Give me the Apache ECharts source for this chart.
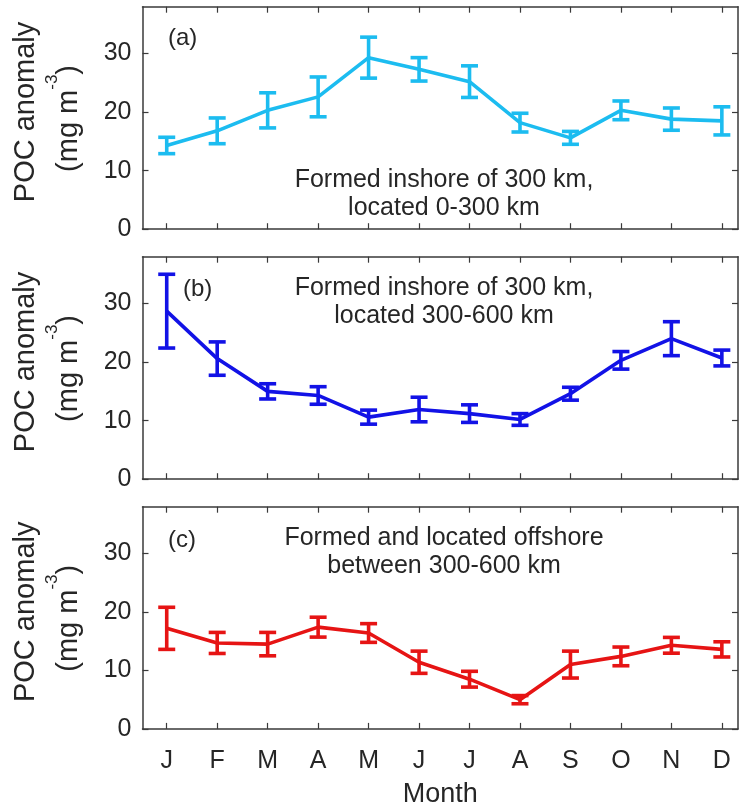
<!DOCTYPE html>
<html>
<head>
<meta charset="utf-8">
<script src="https://cdn.jsdelivr.net/npm/echarts@6/dist/echarts.min.js"></script>
<style>
html,body{margin:0;padding:0;background:#fff;}
#chart{width:740px;height:809px;}
</style>
</head>
<body>
<div id="chart"></div>
<script>
// ---- data ----
const months = ['J','F','M','A','M','J','J','A','S','O','N','D'];
const monthPos = [1,2,3,4,5,6,7,8,9,10,11,12];
const yTickValues = [0,10,20,30];

const meanA = [14.3, 16.8, 20.3, 22.6, 29.3, 27.3, 25.2, 18.2, 15.6, 20.3, 18.8, 18.5];
const errA  = [1.4, 2.2, 3.0, 3.4, 3.5, 2.0, 2.7, 1.6, 1.1, 1.6, 1.9, 2.4];

const meanB = [28.7, 20.6, 15.0, 14.3, 10.6, 11.9, 11.2, 10.2, 14.6, 20.3, 24.0, 20.7];
const errB  = [6.3, 2.85, 1.3, 1.5, 1.2, 2.1, 1.5, 1.0, 1.1, 1.5, 2.9, 1.35];

const meanC = [17.2, 14.7, 14.5, 17.4, 16.4, 11.4, 8.5, 5.0, 11.0, 12.4, 14.3, 13.6];
const errC  = [3.6, 1.8, 2.0, 1.7, 1.6, 1.9, 1.35, 0.7, 2.3, 1.6, 1.35, 1.3];

const panelLetters = ['(a)', '(b)', '(c)'];
const panelNotes = [
  'Formed inshore of 300 km,\nlocated 0-300 km',
  'Formed inshore of 300 km,\nlocated 300-600 km',
  'Formed and located offshore\nbetween 300-600 km'
];
const yLabelMain = 'POC anomaly';
const yLabelUnit = '(mg m';
const yLabelExp = '-3';
const xLabel = 'Month';

// ---- styling / layout ----
const colors = ['#1cbcf0', '#1212e6', '#e61414'];
const textColor = '#262626';
const axisColor = '#3a3a3a';
const FONT = '"Liberation Sans", Arial, Helvetica, sans-serif';
const grids = [
  {left: 142.5, right: 2, top: 6.7, height: 222.5},
  {left: 142.5, right: 2, top: 256.7, height: 222.5},
  {left: 142.5, right: 2, top: 506.7, height: 222.2}
];
const means = [meanA, meanB, meanC];
const errs = [errA, errB, errC];

const xAxes = [], yAxes = [], series = [], graphics = [];
const axisLine = {show: true, onZero: false, lineStyle: {color: axisColor, width: 1.5}};
const tickStyle = {color: axisColor, width: 1.2};

grids.forEach((g, i) => {
  g.outerBoundsMode = 'none';
  g.containLabel = false;
  ['bottom', 'top'].forEach(pos => {
    xAxes.push({
      gridIndex: i, type: 'value', position: pos, min: 0.52, max: 12.32,
      axisLine: axisLine,
      axisTick: {show: true, inside: true, length: 6, customValues: monthPos, lineStyle: tickStyle},
      axisLabel: {
        show: pos === 'bottom' && i === 2, customValues: monthPos,
        formatter: v => months[Math.round(v) - 1],
        fontFamily: FONT, fontSize: 25, color: textColor, margin: 20
      },
      splitLine: {show: false},
      name: (pos === 'bottom' && i === 2) ? xLabel : '',
      nameLocation: 'middle', nameGap: 52,
      nameTextStyle: {fontFamily: FONT, fontSize: 27, color: textColor}
    });
  });
  ['left', 'right'].forEach(pos => {
    yAxes.push({
      gridIndex: i, type: 'value', position: pos, min: 0, max: 38,
      axisLine: axisLine,
      axisTick: {show: true, inside: true, length: 6, customValues: yTickValues, lineStyle: tickStyle},
      axisLabel: {
        show: pos === 'left', customValues: yTickValues,
        fontFamily: FONT, fontSize: 25, color: textColor, margin: 11
      },
      splitLine: {show: false}
    });
  });
  const xb = i * 2, yl = i * 2;
  const color = colors[i];
  series.push({
    type: 'line', xAxisIndex: xb, yAxisIndex: yl,
    data: means[i].map((v, k) => [monthPos[k], v]),
    symbol: 'none', lineStyle: {color: color, width: 3.6}, z: 3, animation: false
  });
  series.push({
    type: 'custom', xAxisIndex: xb, yAxisIndex: yl,
    data: means[i].map((v, k) => [monthPos[k], v, errs[i][k]]),
    encode: {x: 0, y: 1},
    animation: false, z: 4,
    renderItem: (params, api) => {
      const x = api.value(0), m = api.value(1), e = api.value(2);
      const p1 = api.coord([x, m + e]);
      const p2 = api.coord([x, m - e]);
      const hw = 8.5;
      const st = {stroke: color, lineWidth: 3.6};
      return {type: 'group', children: [
        {type: 'line', shape: {x1: p1[0], y1: p1[1], x2: p2[0], y2: p2[1]}, style: st},
        {type: 'line', shape: {x1: p1[0] - hw, y1: p1[1], x2: p1[0] + hw, y2: p1[1]}, style: st},
        {type: 'line', shape: {x1: p2[0] - hw, y1: p2[1], x2: p2[0] + hw, y2: p2[1]}, style: st}
      ]};
    }
  });

  const cy = g.top + g.height / 2;
  // y-axis label, line 1
  graphics.push({
    type: 'text', x: 26, y: cy - 6, rotation: Math.PI / 2, z: 10,
    style: {
      text: yLabelMain, align: 'center', verticalAlign: 'middle',
      fill: textColor, fontFamily: FONT, fontSize: 29
    }
  });
  // y-axis label, line 2 with superscript
  graphics.push({
    type: 'text', x: 68, y: cy + 0.5, rotation: Math.PI / 2, z: 10,
    style: {
      text: '{m|' + yLabelUnit + '}{s|' + yLabelExp + '}{m|)}',
      align: 'center', verticalAlign: 'middle',
      fill: textColor, fontFamily: FONT,
      rich: {
        m: {fontSize: 29, lineHeight: 30, fontFamily: FONT, fill: textColor, verticalAlign: 'bottom'},
        s: {fontSize: 17, lineHeight: 17, fontFamily: FONT, fill: textColor, verticalAlign: 'bottom', padding: [0, 0, 22, 0]}
      }
    }
  });
  // panel letter
  const letterPos = [[168, 38], [183, 289], [168, 540]][i];
  graphics.push({
    type: 'text', x: letterPos[0], y: letterPos[1], z: 10,
    style: {text: panelLetters[i], fontFamily: FONT, fontSize: 24, fill: textColor, align: 'left', verticalAlign: 'middle'}
  });
  // annotation
  const noteY = [194, 302, 552][i];
  graphics.push({
    type: 'text', x: 444, y: noteY, z: 10,
    style: {text: panelNotes[i], fontFamily: FONT, fontSize: 25, lineHeight: 28.5, fill: textColor, align: 'center', verticalAlign: 'middle'}
  });
});

const chart = echarts.init(document.getElementById('chart'), null, {renderer: 'canvas'});
chart.setOption({
  animation: false,
  backgroundColor: '#ffffff',
  grid: grids,
  xAxis: xAxes,
  yAxis: yAxes,
  series: series,
  graphic: graphics
});
</script>
</body>
</html>
